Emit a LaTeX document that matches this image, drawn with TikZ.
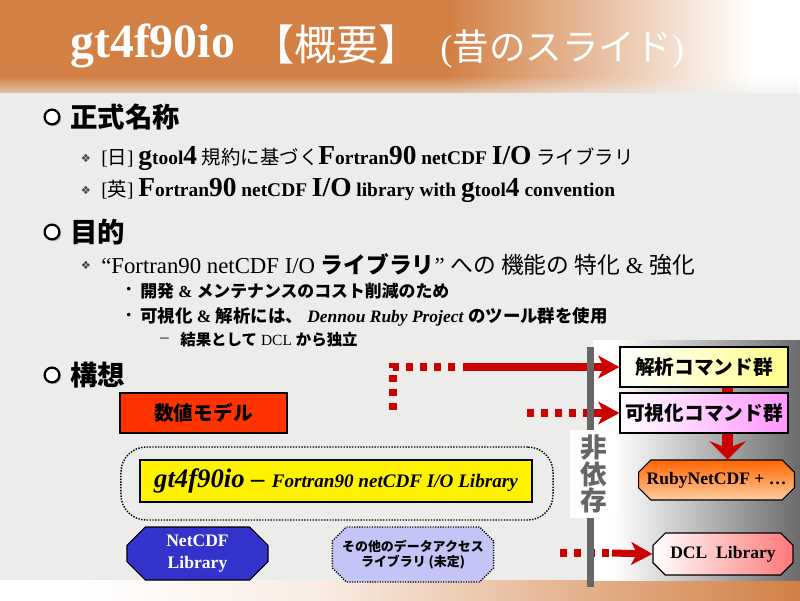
\documentclass[tikz,border=0pt]{standalone}
\usepackage{fontspec}
\setmainfont{Liberation Serif}
\newfontfamily\jp{Noto Sans CJK JP}
\newfontfamily\dingfont{DejaVu Sans}
\usetikzlibrary{arrows.meta,shapes.misc,fadings,shadows}

\definecolor{slidebg}{RGB}{236,236,234}
\definecolor{tband}{RGB}{210,128,68}
\definecolor{arrowred}{RGB}{204,0,0}
\definecolor{bargray}{RGB}{102,102,102}
\definecolor{modelred}{RGB}{255,51,0}
\definecolor{netblue}{RGB}{51,51,204}
\definecolor{otherblue}{RGB}{196,196,246}
\definecolor{anayellow}{RGB}{255,255,140}
\definecolor{vispink}{RGB}{255,150,255}
\definecolor{rubyorange}{RGB}{255,102,0}
\definecolor{rubypeach}{RGB}{255,204,160}
\definecolor{dclpink}{RGB}{255,120,120}

\pgfdeclarehorizontalshading{titlefade}{100bp}{color(0bp)=(tband); color(53bp)=(tband); color(72bp)=(white); color(100bp)=(white)}
\pgfdeclarehorizontalshading{footfade}{100bp}{color(0bp)=(white); color(30bp)=(white); color(45bp)=(white!85!tband); color(75bp)=(tband); color(100bp)=(tband)}
\pgfdeclarehorizontalshading{panelfade}{100bp}{color(0bp)=(white); color(30bp)=(white); color(75bp)=(black!58); color(100bp)=(black!58)}

\newcommand{\gbig}[1]{{\fontsize{19.5}{20}\selectfont\bfseries #1}}
\newcommand{\jb}[1]{{\jp\bfseries #1}}

\tikzset{
  headdot/.style={circle, draw=black, line width=1.6pt, fill=white, minimum size=10.5pt, inner sep=0pt,
    drop shadow={shadow xshift=1.2pt, shadow yshift=-1.2pt, fill=black!55}},
  heading/.style={anchor=west, inner sep=0pt, font=\jp\bfseries\fontsize{19.5}{21}\selectfont},
  dingmark/.style={inner sep=0pt, text=black!75, font=\dingfont\fontsize{8}{8}\selectfont},
  textline/.style={anchor=west, inner sep=0pt},
  cmdbox/.style={draw, line width=0.8pt, minimum width=4.2cm, minimum height=1cm, inner sep=0pt,
    font=\jp\bfseries\fontsize{14}{16}\selectfont},
  octbox/.style={chamfered rectangle, chamfered rectangle xsep=7pt, draw, line width=0.8pt, inner sep=0pt,
    font=\bfseries\fontsize{12.5}{16}\selectfont},
  dots/.style={arrowred, line width=5pt, dash pattern=on 5pt off 5pt},
  redarrow/.style={arrowred, line width=5pt, -{Stealth[length=15pt,width=16pt,inset=4pt]}},
  downarrow/.style={arrowred, line width=8pt, -{Stealth[length=13pt,width=26pt,inset=5pt]}}
}

\begin{document}
\begin{tikzpicture}[x=0.025cm,y=-0.025cm]
\useasboundingbox (0,0) rectangle (800,600);
\fill[slidebg] (0,0) rectangle (800,600);
\shade[shading=titlefade] (0,0) rectangle (800,92);
\fill[slidebg, path fading=north] (0,76) rectangle (800,104);
\shade[shading=footfade] (0,580) rectangle (800,600);
\shade[shading=panelfade] (593,340) rectangle (800,580);

\node[anchor=base west, inner sep=0pt, text=white, font=\bfseries\fontsize{34}{36}\selectfont] (ttl) at (70,57) {gt4f90io};
\node[anchor=base west, inner sep=0pt, text=white, font=\jp\fontsize{30}{32}\selectfont] (ttlb) at (252,60) {【概要】};
\node[anchor=base west, inner sep=0pt, text=white, font=\fontsize{26}{28}\selectfont] (ttlc) at (440,60) {({\jp 昔のスライド})};

\node[headdot] (h1dot) at (52,117) {};
\node[heading] (h1) at (70,117) {正式名称};
\node[dingmark] (d1) at (86,158) {❖};
\node[textline, font=\fontsize{13.8}{15}\selectfont] (l1) at (101,158) {[{\jp 日}] \gbig{g}\textbf{tool}\gbig{4} {\jp 規約に基づく}\gbig{F}\textbf{ortran}\gbig{90} \textbf{netCDF} \gbig{I/O} {\jp ライブラリ}};
\node[dingmark] (d2) at (86,190) {❖};
\node[textline, font=\fontsize{13.8}{15}\selectfont] (l2) at (101,190) {[{\jp 英}] \gbig{F}\textbf{ortran}\gbig{90} \textbf{netCDF} \gbig{I/O} \textbf{library with} \gbig{g}\textbf{tool}\gbig{4} \textbf{convention}};

\node[headdot] (h2dot) at (52,232) {};
\node[heading] (h2) at (70,232) {目的};
\node[dingmark] (d3) at (86,265) {❖};
\node[textline, font=\fontsize{16.2}{18}\selectfont] (l3) at (101,265) {“Fortran90 netCDF I/O \jb{ライブラリ}” {\jp への 機能の 特化} \& {\jp 強化}};
\node[textline, font=\jp\fontsize{12}{14}\selectfont] (b4) at (120,291) {・};
\node[textline, font=\fontsize{12}{14}\selectfont] (l4) at (140,291) {\jb{開発} \textbf{\&} \jb{メンテナンスのコスト削減のため}};
\node[textline, font=\jp\fontsize{12}{14}\selectfont] (b5) at (120,317) {・};
\node[textline, font=\fontsize{12.4}{14}\selectfont] (l5) at (140,317) {\jb{可視化} \textbf{\&} \jb{解析には、} \textbf{\textit{Dennou Ruby Project}} \jb{のツール群を使用}};
\node[textline, font=\fontsize{12}{14}\selectfont] (b6) at (160,340) {–};
\node[textline, font=\fontsize{11}{13}\selectfont] (l6) at (180,340) {\jb{結果として} DCL \jb{から独立}};

\node[headdot] (h3dot) at (52,375) {};
\node[heading] (h3) at (70,375) {構想};

\node[draw, line width=0.8pt, fill=modelred, minimum width=4.175cm, minimum height=1cm, font=\jp\bfseries\fontsize{14}{16}\selectfont] (model) at (203.5,413) {数値モデル};
\node[draw, densely dotted, line width=1pt, rounded corners=18pt, minimum width=10.8cm, minimum height=1.825cm] (gtframe) at (337,483.5) {};
\node[draw, line width=0.8pt, fill=yellow, minimum width=9.8cm, minimum height=1.05cm, inner sep=0pt] (gtbox) at (336,481) {{\fontsize{19}{20}\selectfont\bfseries\itshape gt4f90io –}\ \ {\fontsize{13.6}{16}\selectfont\bfseries\itshape Fortran90 netCDF I/O Library}};
\node[octbox, chamfered rectangle xsep=10pt, fill=netblue, text=white, align=center, minimum width=3.525cm, minimum height=1.325cm] (netcdf) at (197.5,553.5) {NetCDF\\Library};
\node[octbox, densely dotted, line width=1pt, fill=otherblue, align=center, minimum width=4cm, minimum height=1.375cm, font=\jp\bfseries\fontsize{9.2}{11}\selectfont] (otherlib) at (413,554.5) {その他のデータアクセス\\ライブラリ (未定)};

\node[cmdbox, left color=white, right color=anayellow] (ana) at (704,367) {解析コマンド群};
\node[cmdbox, left color=white, right color=vispink] (vis) at (704,413) {可視化コマンド群};
\node[octbox, top color=rubyorange, bottom color=rubypeach, minimum width=3.825cm, minimum height=1cm] (ruby) at (716.5,480) {RubyNetCDF + …};
\node[octbox, left color=white, right color=dclpink, minimum width=3.5cm, minimum height=1.05cm] (dcl) at (723,554) {DCL\ \ Library};

\draw[arrowred, line width=8pt] ([xshift=0.59cm]ana.south) -- ([xshift=0.59cm]vis.north);
\draw[downarrow] ([xshift=0.59cm]vis.south) -- ([xshift=0.59cm]vis.south |- ruby.north);

\coordinate (a1s) at (393,410);
\coordinate (a1c) at (393,367);
\coordinate (a1m) at (465,367);
\coordinate (a2s) at (527,413);
\coordinate (a2m) at (588,413);
\coordinate (a3s) at (560,553);
\coordinate (a3m) at (612,553);
\draw[dots] (a1s) -- (a1c) -- (a1m);
\draw[redarrow] (a1m) -- (ana.west);
\draw[dots] (a2s) -- (a2m);
\draw[redarrow] (a2m) -- (vis.west);
\draw[dots] (a3s) -- (a3m);
\draw[redarrow] (a3m) -- (dcl.west);

\fill[bargray] (587,347) rectangle (594,587);
\node[fill=white, minimum width=1.175cm, minimum height=2.2cm, inner sep=0pt, align=center, text=bargray, font=\jp\bfseries\fontsize{19}{19}\selectfont] (indep) at (593.5,474) {非\\依\\存};
\end{tikzpicture}
\end{document}
